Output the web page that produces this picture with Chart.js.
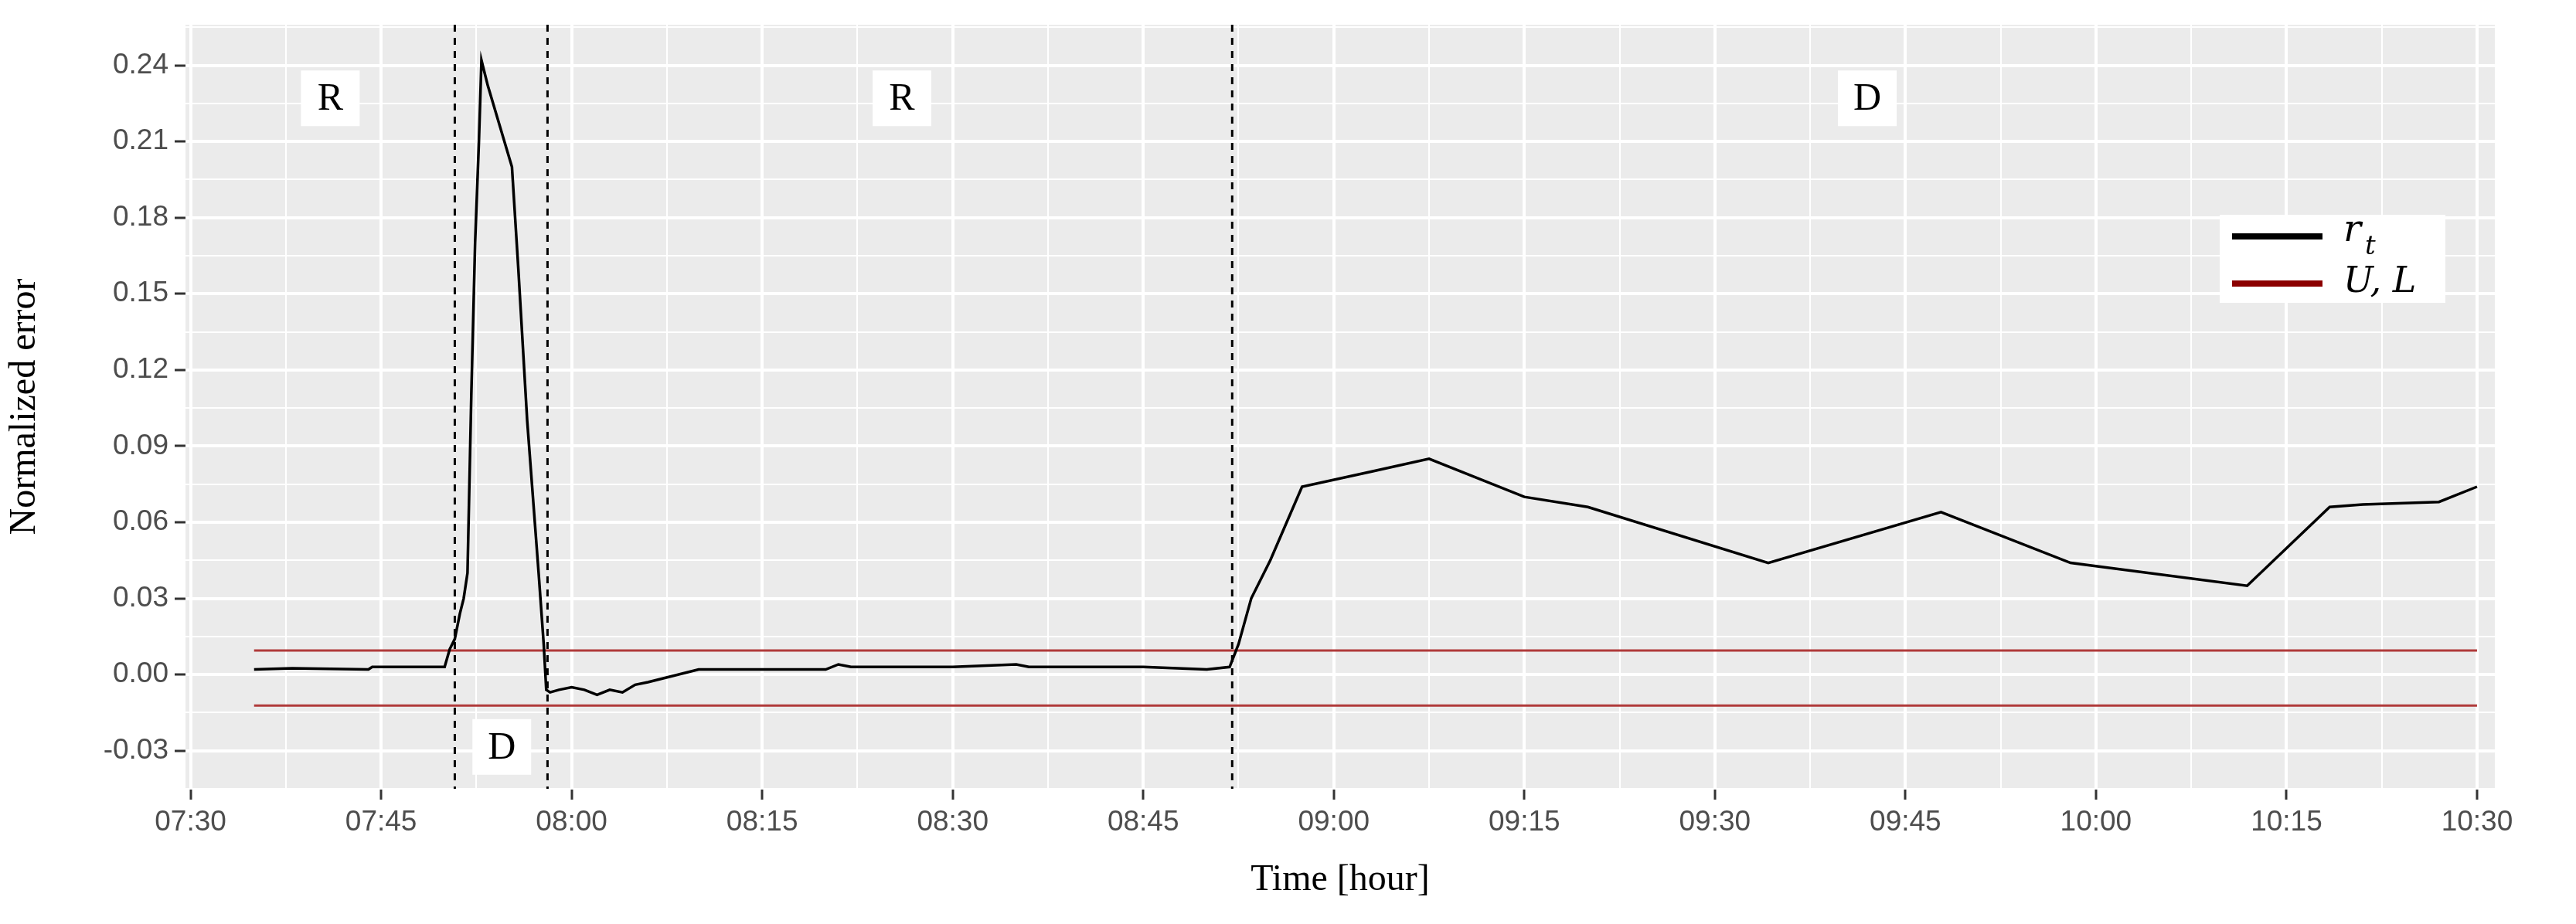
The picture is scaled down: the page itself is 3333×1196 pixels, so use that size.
<!DOCTYPE html>
<html><head><meta charset="utf-8">
<script src="https://cdn.jsdelivr.net/npm/chart.js@4/dist/chart.umd.min.js"></script>
<style>html,body{margin:0;padding:0;background:#fff}#wrap{width:3333px;height:1196px}</style>
</head><body><div id="wrap"><canvas id="c" width="3333" height="1196"></canvas></div>
<script>
// minutes since 07:30
const times = [5,8,14,14.3,20,20.4,20.8,21.2,21.5,21.8,22.1,22.4,22.7,22.9,23.4,25.3,25.8,26.5,27.4,27.8,28.0,28.3,29,30,31,32,33,34,35,36,40,50,51,52,60,65,66,75,80,81.8,82.5,83.5,85,87.5,93,97.5,105,110,124.2,137.8,148,161.9,168.4,171,177,180];
const values = [0.002,0.0025,0.002,0.003,0.003,0.01,0.014,0.024,0.03,0.04,0.11,0.17,0.21,0.242,0.232,0.2,0.16,0.1,0.04,0.012,-0.006,-0.007,-0.006,-0.005,-0.006,-0.008,-0.006,-0.007,-0.004,-0.003,0.002,0.002,0.004,0.003,0.003,0.004,0.003,0.003,0.002,0.003,0.012,0.03,0.045,0.074,0.08,0.085,0.07,0.066,0.044,0.064,0.044,0.035,0.066,0.067,0.068,0.074];
const limitStart = 5, limitEnd = 180;
const upperLimit = 0.0095, lowerLimit = -0.0122;
const phaseBounds = [20.8, 28.1, 82];
const phaseLabels = [{t:11,v:0.227,s:'R'},{t:56,v:0.227,s:'R'},{t:132,v:0.227,s:'D'},{t:24.5,v:-0.0285,s:'D'}];
const xTickLabels = ['07:30','07:45','08:00','08:15','08:30','08:45','09:00','09:15','09:30','09:45','10:00','10:15','10:30'];

const ds = (d,c,w)=>({data:d,borderColor:c,borderWidth:w,pointRadius:0,fill:false,tension:0});
const overlay = {
  id:'overlay',
  beforeDatasetsDraw(ch){
    const {ctx,chartArea:a,scales:{x,y}} = ch;
    ctx.save();
    ctx.strokeStyle='#000';ctx.lineWidth=3;ctx.setLineDash([9,8]);
    phaseBounds.forEach(t=>{const px=x.getPixelForValue(t);ctx.beginPath();ctx.moveTo(px,a.top);ctx.lineTo(px,a.bottom);ctx.stroke();});
    ctx.restore();
  },
  afterDatasetsDraw(ch){
    const {ctx,scales:{x,y}} = ch;
    ctx.save();
    ctx.font='50px "Liberation Serif", serif';ctx.textAlign='center';ctx.textBaseline='middle';
    phaseLabels.forEach(p=>{const px=x.getPixelForValue(p.t),py=y.getPixelForValue(p.v);
      ctx.fillStyle='#fff';ctx.fillRect(px-38,py-36,76,72);ctx.fillStyle='#000';ctx.fillText(p.s,px,py+2);});
    // legend
    const lx=2872,ly=278;
    ctx.fillStyle='#fff';ctx.fillRect(lx,ly,292,114);
    ctx.lineWidth=8;ctx.strokeStyle='#000';ctx.beginPath();ctx.moveTo(lx+16,ly+28);ctx.lineTo(lx+133,ly+28);ctx.stroke();
    ctx.strokeStyle='#8b0000';ctx.beginPath();ctx.moveTo(lx+16,ly+89);ctx.lineTo(lx+133,ly+89);ctx.stroke();
    ctx.fillStyle='#000';ctx.textAlign='left';ctx.font='italic 48px "DejaVu Serif", serif';
    ctx.fillText('r',lx+160,ly+22);ctx.font='italic 34px "DejaVu Serif", serif';ctx.fillText('t',lx+188,ly+42);
    ctx.font='italic 46px "DejaVu Serif", serif';ctx.fillText('U, L',lx+160,ly+88);
    ctx.restore();
  }
};
new Chart(document.getElementById('c'),{
  type:'line',
  data:{datasets:[
    ds(times.map((t,i)=>({x:t,y:values[i]})),'#000',3.5),
    ds([{x:limitStart,y:upperLimit},{x:limitEnd,y:upperLimit}],'#b03a3a',3),
    ds([{x:limitStart,y:lowerLimit},{x:limitEnd,y:lowerLimit}],'#b03a3a',3)
  ]},
  options:{responsive:false,animation:false,devicePixelRatio:1,
    layout:{padding:{top:32,right:96,left:0,bottom:28}},
    plugins:{legend:{display:false},tooltip:{enabled:false}},
    scales:{
      x:{type:'linear',min:-0.4,max:181.4,border:{display:false},
        afterBuildTicks(s){const t=[];for(let v=-7.5;v<=187.5;v+=7.5)t.push({value:v});s.ticks=t;},
        afterFit(s){s.height=147;},
        ticks:{autoSkip:false,maxRotation:0,color:'#4d4d4d',font:{size:37,family:'Liberation Sans, Arial'},padding:8,
          callback:(v)=>{const i=Math.round(v/15);return (Math.abs(v-i*15)<0.01&&i>=0&&i<xTickLabels.length)?xTickLabels[i]:'';}},
        grid:{color:'#fff',lineWidth:c=>Math.abs(c.tick.value/15-Math.round(c.tick.value/15))<0.01?4:2,
          tickColor:c=>Math.abs(c.tick.value/15-Math.round(c.tick.value/15))<0.01?'#333':'rgba(0,0,0,0)',tickLength:14,tickWidth:3},
        title:{display:true,text:'Time [hour]',font:{size:48,family:'Liberation Serif, serif'},color:'#000',padding:{top:0,bottom:0}}},
      y:{min:-0.045,max:0.256,border:{display:false},
        afterBuildTicks(s){const t=[];for(let k=-3;k<=17;k++)t.push({value:k*0.015});s.ticks=t;},
        afterFit(s){s.width=240;},
        ticks:{autoSkip:false,color:'#4d4d4d',font:{size:37,family:'Liberation Sans, Arial'},padding:8,
          callback:(v)=>{const k=Math.round(v/0.015);return (k%2===0&&k>=-2&&k<=16)?(v).toFixed(2):'';}},
        grid:{color:'#fff',lineWidth:c=>Math.round(c.tick.value/0.015)%2===0?4:2,
          tickColor:c=>Math.round(c.tick.value/0.015)%2===0?'#333':'rgba(0,0,0,0)',tickLength:14,tickWidth:3},
        title:{display:true,text:'Normalized error',font:{size:48,family:'Liberation Serif, serif'},color:'#000',padding:{bottom:4}}}
    }
  },
  plugins:[{id:'bg',beforeDraw(ch){const {ctx,chartArea:a}=ch;ctx.save();ctx.fillStyle='#ebebeb';ctx.fillRect(a.left,a.top,a.width,a.height);ctx.restore();}},overlay]
});
</script></body></html>
